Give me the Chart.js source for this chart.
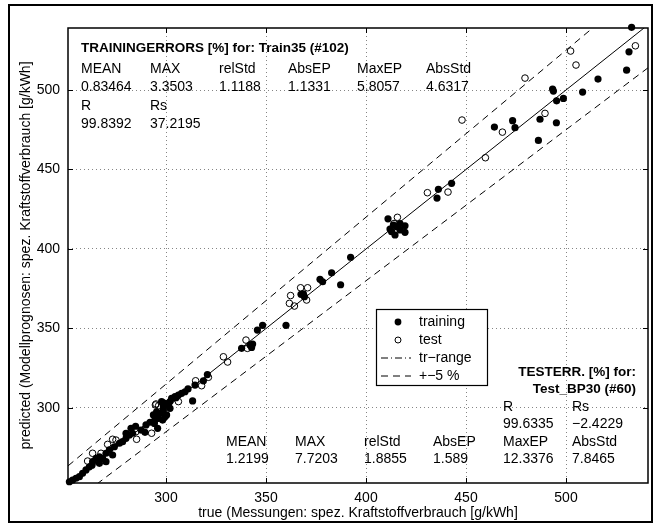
<!DOCTYPE html>
<html>
<head>
<meta charset="utf-8">
<script src="https://cdn.jsdelivr.net/npm/chart.js@4.4.0/dist/chart.umd.min.js"></script>
<style>
  html, body { margin: 0; padding: 0; background: #fff; }
  canvas { display: block; }
</style>
</head>
<body>
<canvas id="fitChart" width="660" height="526"></canvas>
<script>
/* ------------------------------------------------------------
   DATA
------------------------------------------------------------- */
const trainX = [251.7, 253.3, 255, 256.7, 258.3, 260, 261.7, 263.3, 265, 266.7, 266.7, 268.3, 270, 270, 271.7,
    273.3, 274.2, 276.7, 278.3, 280, 280, 281.7, 282.5, 283.3, 287.5, 289.5, 290, 294.2, 295.8, 298.3, 294.5,
    296.2, 293.7, 295.3, 297, 299.5, 300.3, 298.7, 302, 298.7, 301.2, 299.5, 297.8, 298.3, 302, 302.8, 304.5,
    306.2, 307.8, 309.5, 313.3, 314.5, 318.7, 320.7, 337.8, 342, 343.3, 342.8, 345.7, 348.3, 360, 367.5, 368.7,
    369.2, 377, 378.3, 382.8, 387.3, 392.3, 412.8, 413.7, 414.5, 415.3, 417, 417, 419.5, 412, 419.5, 411, 435.5,
    436.2, 442.8, 464.2, 473.3, 474.5, 486.2, 487, 493.3, 493.7, 495.2, 495.3, 498.7, 508.3, 516, 530.3, 531.5,
    532.8, 284.8, 292, 305, 311, 263];
const trainY = [253.6, 254.7, 255.8, 256.8, 258.9, 261, 263, 266.2, 268.3, 269.3, 265.2, 268.3, 271.5, 266.2, 273.6,
    270.4, 275.6, 277.8, 278.8, 280.9, 284, 283, 287.2, 284.1, 286.1, 284.7, 289.3, 290.3, 287.2, 292.4, 292.4,
    293.5, 295.6, 297.6, 296.6, 294.5, 295.6, 298.7, 299.8, 300.8, 301.9, 302.9, 304, 303.3, 304, 306.1, 307.1,
    308.1, 309.2, 310.2, 304.4, 314.4, 317.1, 321, 337.5, 339.6, 340.2, 338.1, 349, 352, 352, 371.5, 371.7,
    370, 380.9, 379.4, 385, 377.5, 394.8, 410.9, 415, 408.8, 414, 416, 412, 414.6, 412.5, 410.5, 419, 432,
    437.5, 441.3, 476.7, 480.7, 476.3, 468.3, 481.6, 500.6, 499.3, 479.4, 493.2, 494.7, 498.7, 506.9, 512.5, 524,
    539.4, 288.5, 291, 306.5, 312, 264];

const testX = [260.8, 263.3, 267.5, 270.8, 273.3, 275, 285, 285.3, 292.8, 294.7, 296.3, 295, 306.2, 314.8, 317.8,
    321.2, 328.7, 330.8, 340, 340.7, 361.7, 362.3, 364.2, 367.3, 370.8, 370.3, 414, 415.7, 430.7, 441, 448,
    459.7, 468.2, 479.5, 489.5, 502.3, 505, 534.7];
const testY = [266.6, 271.5, 271.5, 277.1, 280.3, 279.8, 285.1, 280.3, 284.1, 301.9, 301.4, 302.5, 304, 317.1, 314,
    319.3, 332.2, 328.9, 342.7, 337.5, 365.8, 370.7, 364.1, 375.6, 375.6, 367.9, 416, 419.9, 435.4, 435.8, 481.1,
    457.4, 473.5, 507.5, 485.3, 524.5, 515.7, 527.8];

const xRange = [251, 541];
const yRange = [252.8, 539];
const xTicks = [300, 350, 400, 450, 500];
const yTicks = [300, 350, 400, 450, 500];
const bandFactors = [1.05, 0.95];

const statHeads = ["MEAN", "MAX", "relStd", "AbsEP", "MaxEP", "AbsStd"];
const trainTitle = "TRAININGERRORS [%] for: Train35 (#102)";
const trainVals = ["0.83464", "3.3503", "1.1188", "1.1331", "5.8057", "4.6317"];
const trainR = ["99.8392", "37.2195"];
const testTitle = ["TESTERR. [%] for:", "Test_BP30 (#60)"];
const testVals = ["1.2199", "7.7203", "1.8855", "1.589", "12.3376", "7.8465"];
const testR = ["99.6335", "\u22122.4229"];
const legendLabels = ["training", "test", "tr\u2212range", "+\u22125 %"];

const FONT = '"Liberation Sans", Arial, Helvetica, sans-serif';

/* ------------------------------------------------------------
   PLUGIN — matlab style box, inner ticks, texts, legend
------------------------------------------------------------- */
const matlabDecor = {
    id: "matlabDecor",
    beforeDraw(chart) {
        const ctx = chart.ctx;
        ctx.save();
        ctx.fillStyle = "#fff";
        ctx.fillRect(0, 0, chart.width, chart.height);
        ctx.restore();
    },
    afterDatasetsDraw(chart) {
        const ctx = chart.ctx;
        const a = chart.chartArea;
        const xs = chart.scales.x;
        const ys = chart.scales.y;
        ctx.save();

        // axis box
        ctx.strokeStyle = "#000";
        ctx.lineWidth = 1.5;
        ctx.strokeRect(a.left, a.top, a.right - a.left, a.bottom - a.top);

        // inner ticks
        ctx.lineWidth = 1;
        ctx.beginPath();
        xTicks.forEach(v => {
            const px = Math.round(xs.getPixelForValue(v)) + 0.5;
            ctx.moveTo(px, a.bottom); ctx.lineTo(px, a.bottom - 5);
            ctx.moveTo(px, a.top); ctx.lineTo(px, a.top + 5);
        });
        yTicks.forEach(v => {
            const py = Math.round(ys.getPixelForValue(v)) + 0.5;
            ctx.moveTo(a.left, py); ctx.lineTo(a.left + 5, py);
            ctx.moveTo(a.right, py); ctx.lineTo(a.right - 5, py);
        });
        ctx.stroke();

        // training stats
        const cols1 = [81, 150, 219, 288, 357, 426];
        ctx.fillStyle = "#000";
        ctx.textBaseline = "middle";
        ctx.textAlign = "left";
        ctx.font = "bold 13.5px " + FONT;
        ctx.fillText(trainTitle, 81, 48);
        ctx.font = "14px " + FONT;
        statHeads.forEach((h, i) => ctx.fillText(h, cols1[i], 69));
        trainVals.forEach((v, i) => ctx.fillText(v, cols1[i], 87));
        ctx.fillText("R", cols1[0], 106);
        ctx.fillText("Rs", cols1[1], 106);
        ctx.fillText(trainR[0], cols1[0], 124);
        ctx.fillText(trainR[1], cols1[1], 124);

        // test stats
        const cols2 = [226, 295, 364, 433, 503, 572];
        ctx.font = "bold 13.5px " + FONT;
        ctx.textAlign = "right";
        ctx.fillText(testTitle[0], 636, 372);
        ctx.fillText(testTitle[1], 636, 389);
        ctx.textAlign = "left";
        ctx.font = "14px " + FONT;
        ctx.fillText("R", cols2[4], 407);
        ctx.fillText("Rs", cols2[5], 407);
        ctx.fillText(testR[0], cols2[4], 424);
        ctx.fillText(testR[1], cols2[5], 424);
        statHeads.forEach((h, i) => ctx.fillText(h, cols2[i], 442));
        testVals.forEach((v, i) => ctx.fillText(v, cols2[i], 459));

        // legend box
        const lx = 376, ly = 309, lw = 111, lh = 76;
        ctx.fillStyle = "#fff";
        ctx.fillRect(lx, ly, lw, lh);
        ctx.strokeStyle = "#000";
        ctx.lineWidth = 1.2;
        ctx.strokeRect(lx + 0.5, ly + 0.5, lw, lh);
        const rows = [322, 340, 358, 376];
        ctx.fillStyle = "#000";
        ctx.beginPath();
        ctx.arc(398, rows[0], 3.4, 0, Math.PI * 2);
        ctx.fill();
        ctx.beginPath();
        ctx.lineWidth = 1;
        ctx.arc(398, rows[1], 3, 0, Math.PI * 2);
        ctx.stroke();
        ctx.beginPath();
        ctx.setLineDash([7, 3, 1, 3]);
        ctx.moveTo(381, rows[2]); ctx.lineTo(411, rows[2]);
        ctx.stroke();
        ctx.beginPath();
        ctx.setLineDash([7, 5]);
        ctx.moveTo(381, rows[3]); ctx.lineTo(411, rows[3]);
        ctx.stroke();
        ctx.setLineDash([]);
        ctx.font = "14px " + FONT;
        legendLabels.forEach((t, i) => ctx.fillText(t, 419, rows[i]));

        // figure frame
        ctx.lineWidth = 2;
        ctx.strokeRect(9, 5, 643, 517);
        ctx.restore();
    }
};

/* ------------------------------------------------------------
   CHART
------------------------------------------------------------- */
const fitCanvas = document.querySelector("#fitChart");

const diagLine = f => xRange.map(v => ({ x: v, y: v * f }));

new Chart(fitCanvas, {
    type: "scatter",
    data: {
        datasets: [
            {
                label: "ideal",
                data: diagLine(1),
                showLine: true,
                borderColor: "#000",
                borderWidth: 1,
                pointRadius: 0
            },
            {
                label: "+5 %",
                data: diagLine(bandFactors[0]),
                showLine: true,
                borderColor: "#000",
                borderWidth: 1,
                borderDash: [7, 5],
                pointRadius: 0
            },
            {
                label: "-5 %",
                data: diagLine(bandFactors[1]),
                showLine: true,
                borderColor: "#000",
                borderWidth: 1,
                borderDash: [7, 5],
                pointRadius: 0
            },
            {
                label: "training",
                data: trainX.map((x, i) => ({ x, y: trainY[i] })),
                backgroundColor: "#000",
                borderColor: "#000",
                borderWidth: 0,
                pointRadius: 3.6,
                clip: false
            },
            {
                label: "test",
                data: testX.map((x, i) => ({ x, y: testY[i] })),
                backgroundColor: "rgba(0,0,0,0)",
                borderColor: "#000",
                borderWidth: 1,
                pointRadius: 3.3,
                clip: false
            }
        ]
    },
    options: {
        responsive: false,
        animation: false,
        events: [],
        layout: { padding: { left: 14, right: 12, top: 28, bottom: 0 } },
        plugins: { legend: { display: false }, tooltip: { enabled: false } },
        scales: {
            x: {
                type: "linear",
                min: xRange[0],
                max: xRange[1],
                afterBuildTicks: axis => { axis.ticks = xTicks.map(v => ({ value: v })); },
                afterFit: axis => { axis.height = 43; },
                grid: { color: "#666", lineWidth: 0.8, drawTicks: false },
                border: { display: false, dash: [1, 3] },
                ticks: { color: "#000", padding: 7, font: { family: FONT, size: 14 } },
                title: {
                    display: true,
                    text: "true (Messungen: spez. Kraftstoffverbrauch [g/kWh]",
                    color: "#000",
                    padding: { top: 0, bottom: 4 },
                    font: { family: FONT, size: 14 }
                }
            },
            y: {
                type: "linear",
                min: yRange[0],
                max: yRange[1],
                afterBuildTicks: axis => { axis.ticks = yTicks.map(v => ({ value: v })); },
                afterFit: axis => { axis.width = 54; },
                grid: { color: "#666", lineWidth: 0.8, drawTicks: false },
                border: { display: false, dash: [1, 3] },
                ticks: { color: "#000", padding: 8, font: { family: FONT, size: 14 } },
                title: {
                    display: true,
                    text: "predicted (Modellprognosen: spez. Kraftstoffverbrauch [g/kWh]",
                    color: "#000",
                    padding: { top: 4, bottom: 0 },
                    font: { family: FONT, size: 14 }
                }
            }
        }
    },
    plugins: [matlabDecor]
});
</script>
</body>
</html>
